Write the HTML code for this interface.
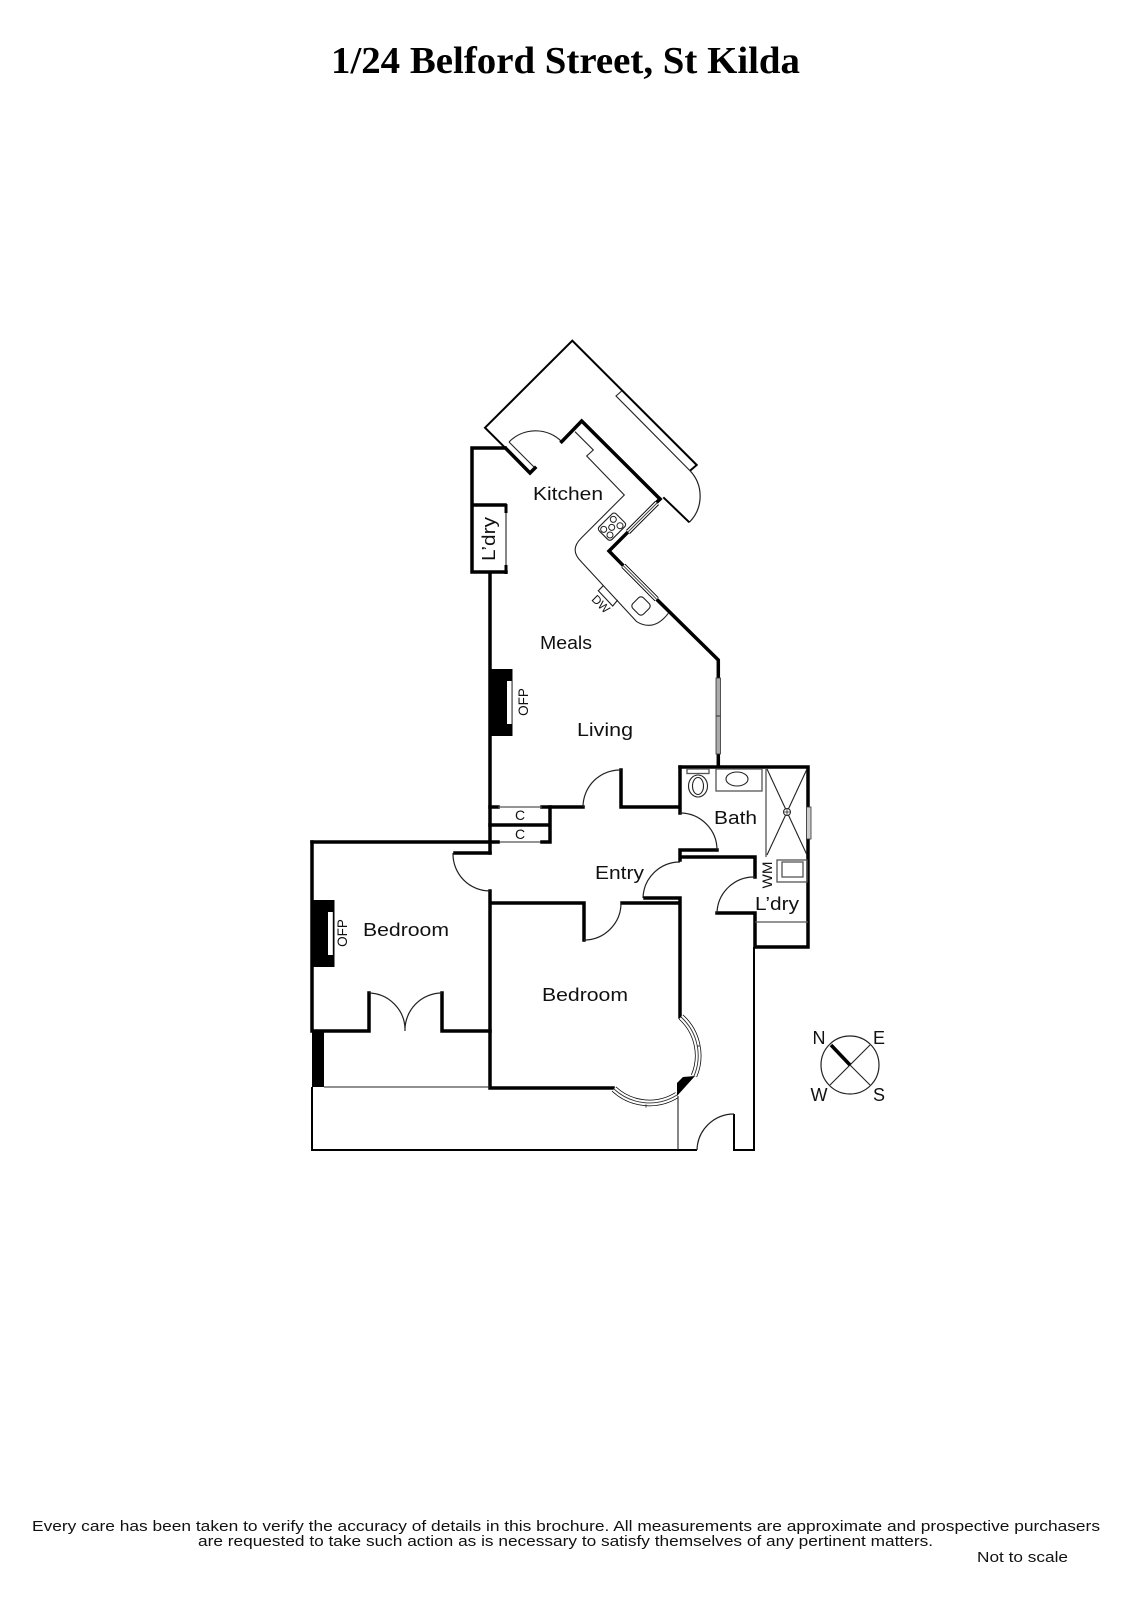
<!DOCTYPE html>
<html><head><meta charset="utf-8"><style>
html,body{margin:0;padding:0;background:#fff}
svg{display:block}
text{font-family:"Liberation Sans",sans-serif;fill:#111}
.w{fill:none;stroke:#000;stroke-width:3.5;stroke-linecap:square;stroke-linejoin:miter}
.m{fill:none;stroke:#000;stroke-width:2}
.t{fill:none;stroke:#222;stroke-width:1.1}
.g{fill:none;stroke:#555;stroke-width:1.3}
.a{fill:none;stroke:#222;stroke-width:1.2}
</style></head><body>
<svg width="1131" height="1600" viewBox="0 0 1131 1600" xmlns="http://www.w3.org/2000/svg">
<rect width="1131" height="1600" fill="#fff"/>
<text x="331" y="73" font-size="38" textLength="469" lengthAdjust="spacingAndGlyphs" style="font-family:'Liberation Serif',serif;font-weight:bold;fill:#000">1/24 Belford Street, St Kilda</text>

<!-- terrace -->
<path class="m" d="M505.7 448.3L485 427.7L572.3 340.7L696.7 465L690 470.7"/>
<path class="t" d="M690 470.7L616 396L621.7 391"/>
<path class="a" d="M690 470.7A37 37 0 0 1 689.3 522.3"/>
<path class="m" d="M689.3 522.3L663.3 497.3"/>
<path class="a" d="M509 442A37 37 0 0 1 561.7 441.7"/>

<!-- kitchen walls -->
<path class="w" d="M505 448H472V572H506M472 505H505M490 573V853"/>
<path class="t" d="M506 505V572"/>
<path d="M506 504V513M506 565V574" stroke="#000" stroke-width="3" fill="none"/>
<path class="w" d="M505.7 448.3L530 473M530 473L535 468"/>
<path class="t" d="M509 442L534 467"/>
<path class="w" d="M561.7 441.7L581.7 421L660 499"/>
<path class="w" d="M660 499L655 504M628.3 531.7L609 551L623.3 565.7M656.7 599.3L718.3 660V678M718.3 754V767"/>

<!-- windows -->
<g>
<path d="M657 503L628 532" fill="none" stroke="#000" stroke-width="5.5"/>
<path d="M657 503L628 532" fill="none" stroke="#fff" stroke-width="3.6"/>
<path d="M657 503L628 532" fill="none" stroke="#444" stroke-width="1"/>
<path d="M623.3 565.7L656.7 599.3" fill="none" stroke="#000" stroke-width="5.5"/>
<path d="M623.3 565.7L656.7 599.3" fill="none" stroke="#fff" stroke-width="3.6"/>
<path d="M623.3 565.7L656.7 599.3" fill="none" stroke="#444" stroke-width="1"/>
<rect x="716" y="678" width="4.5" height="76" fill="#aaa" stroke="#333" stroke-width="0.8"/>
<path d="M716 716H720.5" stroke="#333" stroke-width="1"/>
</g>

<!-- kitchen bench -->
<path class="t" d="M575 431.7L593.3 450L586.7 456L624.3 495L581.3 538Q569 550 581.3 561.7L636.7 621.7Q654 632 668.3 613.3"/>
<rect x="-12" y="-9" width="24" height="18" rx="3" transform="translate(612 526.7) rotate(-45)" fill="none" stroke="#222" stroke-width="1.1"/>
<g fill="none" stroke="#222" stroke-width="1">
<circle cx="603.7" cy="529.4" r="3"/><circle cx="613.3" cy="519.4" r="3"/><circle cx="611.7" cy="527.4" r="3"/><circle cx="610" cy="535" r="3"/><circle cx="620" cy="525.7" r="3"/>
</g>
<rect x="-7.5" y="-7.5" width="15" height="15" rx="3.5" transform="translate(641 606) rotate(45)" class="t"/>
<path class="t" d="M603.3 585.7L598.3 590.7L612.7 606L617.7 600"/>
<text x="0" y="0" font-size="12" text-anchor="middle" textLength="20" lengthAdjust="spacingAndGlyphs" transform="translate(598 607) rotate(45)">DW</text>

<!-- fireplace living -->
<rect x="490" y="669" width="22.5" height="67" fill="#000"/>
<rect x="507" y="681" width="4.6" height="43" fill="#fff"/>
<text font-size="13.5" text-anchor="middle" transform="translate(528 702) rotate(-90)">OFP</text>

<!-- walls entry / closets -->
<path class="w" d="M490 807H498M542 807H583M621 770V807H680M680 767V813"/>
<path class="g" d="M498 807H542M498 842H542"/>
<path class="w" d="M490 825H550M550 807V842H542M490 842H498M312 842H490"/>
<path class="a" d="M621 770A37 37 0 0 0 583 807"/>

<!-- bath -->
<path class="w" d="M680 767H808V947H755V913H717M755 857V877M680 850H717M680 850V860M680 857H755"/>
<rect x="806.5" y="807" width="4.5" height="32" fill="#ccc" stroke="#333" stroke-width="0.8"/>
<path class="a" d="M680 813A37 37 0 0 1 717 850"/>
<path class="g" d="M766 769V857"/>
<path class="t" d="M767 769L807 855M807 769L767 855"/>
<circle cx="787" cy="812" r="3.5" fill="#fff" stroke="#222" stroke-width="1"/>
<path d="M783.5 812H790.5M787 808.5V815.5" stroke="#222" stroke-width="0.8"/>
<rect x="716" y="769" width="46" height="22" class="g"/>
<ellipse cx="737" cy="779" rx="11" ry="7" class="t"/>
<rect x="687" y="769" width="22" height="4.5" class="g"/>
<ellipse cx="698" cy="786" rx="9.5" ry="11" class="t"/>
<ellipse cx="698" cy="786" rx="5.5" ry="8.5" class="t"/>

<!-- laundry -->
<path class="a" d="M755 877A37 37 0 0 0 717 913"/>
<path class="g" d="M755 922H808"/>
<rect x="777" y="860" width="30" height="22" class="g"/>
<rect x="782" y="862" width="21" height="15" class="g"/>
<text font-size="14" text-anchor="middle" textLength="27" lengthAdjust="spacingAndGlyphs" transform="translate(772 875) rotate(-90)">WM</text>

<!-- entry doors -->
<path class="a" d="M680 862A37 37 0 0 0 643 898"/>
<path class="w" d="M645 898H680V1017M490 853H455M490 891V1088H613M490 903H584V940M622 903H680"/>
<path class="a" d="M584 940A37 37 0 0 0 621 903"/>
<path class="a" d="M453 853A37 37 0 0 0 490 891"/>

<!-- bedroom 1 -->
<path class="w" d="M312 842V1031H369V993M442 993V1031H490"/>
<rect x="312" y="900" width="22.5" height="67" fill="#000"/>
<rect x="328" y="912" width="4.8" height="43" fill="#fff"/>
<text font-size="13.5" text-anchor="middle" transform="translate(347 933) rotate(-90)">OFP</text>
<path class="a" d="M369 993A37 37 0 0 1 405 1031M442 993A37 37 0 0 0 405 1031"/>
<rect x="312" y="1031" width="12" height="56" fill="#000"/>
<path class="t" d="M324 1087H490"/>

<!-- bay window -->
<g fill="none">
<path d="M681 1017A52 52 0 0 1 694 1076" stroke="#000" stroke-width="6.5"/>
<path d="M681 1017A52 52 0 0 1 694 1076" stroke="#fff" stroke-width="5"/>
<path d="M681 1017A52 52 0 0 1 694 1076" stroke="#333" stroke-width="0.9"/>
<path d="M677 1095A52 52 0 0 1 614 1089" stroke="#000" stroke-width="6.5"/>
<path d="M677 1095A52 52 0 0 1 614 1089" stroke="#fff" stroke-width="5"/>
<path d="M677 1095A52 52 0 0 1 614 1089" stroke="#333" stroke-width="0.9"/>
<path d="M697 1046L700.500 1046M646 1104.500L646 1107.500" stroke="#333" stroke-width="1"/>
</g>
<path d="M677 1083L683 1077L695 1076L677 1096Z" fill="#000"/>

<!-- outer bottom -->
<path class="m" d="M312 1087V1150H697M734 1114V1150H754V947"/>
<path class="a" d="M697 1150A37 37 0 0 1 734 1114"/>
<path class="t" d="M678 1096V1150"/>

<!-- compass -->
<circle cx="850" cy="1065" r="29" class="a"/>
<path class="t" d="M830 1085L870 1045M850 1065L870 1085"/>
<path d="M831 1045L850 1065" stroke="#000" stroke-width="3.5"/>

<g font-size="18">
<text x="819" y="1044" text-anchor="middle">N</text>
<text x="879" y="1044" text-anchor="middle">E</text>
<text x="819" y="1101" text-anchor="middle">W</text>
<text x="879" y="1101" text-anchor="middle">S</text>
<text x="533" y="500" textLength="70" lengthAdjust="spacingAndGlyphs">Kitchen</text>
<text x="540" y="649" textLength="52" lengthAdjust="spacingAndGlyphs">Meals</text>
<text x="577" y="736" textLength="56" lengthAdjust="spacingAndGlyphs">Living</text>
<text x="714" y="824" textLength="43" lengthAdjust="spacingAndGlyphs">Bath</text>
<text x="595" y="879" textLength="49" lengthAdjust="spacingAndGlyphs">Entry</text>
<text x="755" y="910" textLength="44" lengthAdjust="spacingAndGlyphs">L’dry</text>
<text x="363" y="936" textLength="86" lengthAdjust="spacingAndGlyphs">Bedroom</text>
<text x="542" y="1001" textLength="86" lengthAdjust="spacingAndGlyphs">Bedroom</text>
<text text-anchor="middle" textLength="44" lengthAdjust="spacingAndGlyphs" transform="translate(495 539) rotate(-90)">L’dry</text>
</g>
<text x="520" y="820" font-size="14" text-anchor="middle">C</text>
<text x="520" y="839" font-size="14" text-anchor="middle">C</text>

<g font-size="15">
<text x="32" y="1531" textLength="1068" lengthAdjust="spacingAndGlyphs">Every care has been taken to verify the accuracy of details in this brochure.  All measurements are approximate and prospective purchasers</text>
<text x="198" y="1546" textLength="735" lengthAdjust="spacingAndGlyphs">are requested to take such action as is necessary to satisfy themselves of any pertinent matters.</text>
<text x="977" y="1562" textLength="91" lengthAdjust="spacingAndGlyphs">Not to scale</text>
</g>
</svg>
</body></html>
